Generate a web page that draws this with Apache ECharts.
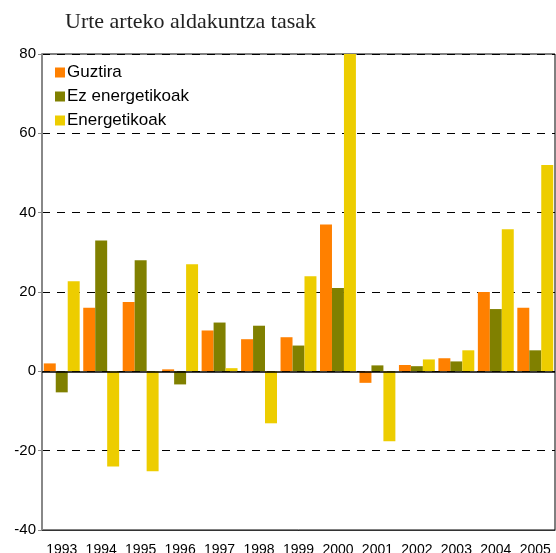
<!DOCTYPE html>
<html>
<head>
<meta charset="utf-8">
<script src="https://cdn.jsdelivr.net/npm/echarts@6/dist/echarts.min.js"></script>
<style>
html,body{margin:0;padding:0;background:#fff;}
#J_Main{width:556px;height:553px;}
</style>
</head>
<body>
<div id="J_Main"></div>
<script>
var years=["1993","1994","1995","1996","1997","1998","1999","2000","2001","2002","2003","2004","2005"];
var guztira=[2.0,16,17.5,0.5,10.3,8.1,8.6,37,-2.9,1.6,3.3,20,16];
var ezEnergetikoak=[-5.3,33,28,-3.3,12.3,11.5,6.5,21,1.5,1.3,2.5,15.7,5.3];
var energetikoak=[22.7,-24,-25.2,27,0.8,-13.1,24,80,-17.6,3.0,5.3,35.8,52];
var yTicks=[-40,-20,0,20,40,60,80];

var myChart=echarts.init(document.getElementById("J_Main"));
var option={
    animation:false,
    title:{
        text:"Urte arteko aldakuntza tasak",
        left:60,
        top:6,
        textStyle:{
            fontFamily:"Liberation Serif",
            fontWeight:"normal",
            fontSize:22,
            color:"#222"
        }
    },
    legend:{
        orient:"vertical",
        left:50,
        top:59,
        icon:"rect",
        itemWidth:10,
        itemHeight:10,
        itemGap:7,
        textStyle:{
            fontFamily:"Liberation Sans",
            fontSize:17,
            color:"#000",
            padding:[0,0,0,-3]
        },
        data:["Guztira","Ez energetikoak","Energetikoak"]
    },
    grid:{
        left:42,
        right:1,
        top:54,
        bottom:23,
        containLabel:false,
        outerBoundsMode:"none",
        show:true,
        borderColor:"#000",
        borderWidth:1
    },
    xAxis:{
        type:"category",
        data:years,
        axisLine:{show:true,onZero:false,lineStyle:{color:"#333",width:1}},
        axisTick:{show:false},
        axisLabel:{
            show:true,
            interval:0,
            hideOverlap:false,
            fontFamily:"Liberation Sans",
            fontSize:14,
            color:"#000",
            margin:13
        },
        splitLine:{show:false}
    },
    yAxis:{
        type:"value",
        min:yTicks[0],
        max:yTicks[yTicks.length-1],
        interval:20,
        axisLine:{show:true,lineStyle:{color:"#888",width:2}},
        axisTick:{show:true,length:4,lineStyle:{color:"#888"}},
        axisLabel:{
            fontFamily:"Liberation Sans",
            fontSize:15,
            color:"#000",
            margin:6
        },
        splitLine:{
            show:true,
            lineStyle:{color:"#000",type:[8,7],width:1}
        }
    },
    series:[{
        name:"Guztira",
        type:"bar",
        data:guztira,
        barGap:"0%",
        barCategoryGap:"9%",
        itemStyle:{color:"#FF8000"},
        markLine:{
            silent:true,
            symbol:["none","none"],
            label:{show:false},
            lineStyle:{color:"#000",type:"solid",width:1.5},
            data:[{yAxis:0}]
        }
    },{
        name:"Ez energetikoak",
        type:"bar",
        data:ezEnergetikoak,
        barGap:"0%",
        barCategoryGap:"9%",
        itemStyle:{color:"#808000"}
    },{
        name:"Energetikoak",
        type:"bar",
        data:energetikoak,
        barGap:"0%",
        barCategoryGap:"9%",
        itemStyle:{color:"#EDCD00"}
    }]
};
myChart.setOption(option);
</script>
</body>
</html>
